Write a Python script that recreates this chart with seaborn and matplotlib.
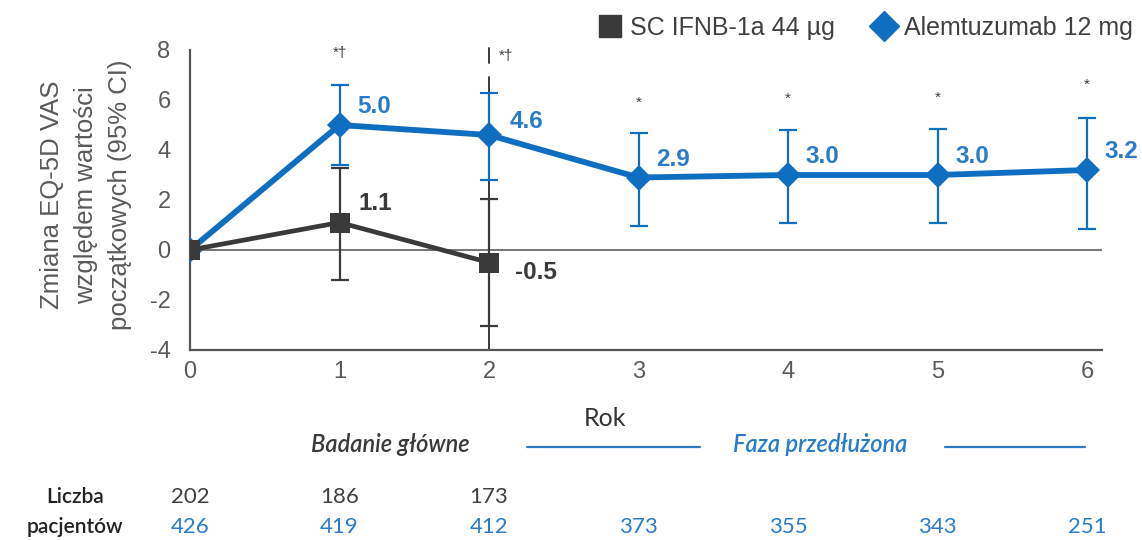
import numpy as np
import pandas as pd
import matplotlib
matplotlib.use("Agg")
import matplotlib.pyplot as plt
import seaborn as sns
from matplotlib.lines import Line2D

# ---- data ----
years = [0, 1, 2, 3, 4, 5, 6]
alem_mean = [0.0, 5.0, 4.6, 2.9, 3.0, 3.0, 3.2]
alem_lo = [0.0, 3.4, 2.8, 0.95, 1.1, 1.1, 0.85]
alem_hi = [0.0, 6.6, 6.3, 4.7, 4.8, 4.85, 5.3]

ifn_years = [0, 1, 2]
ifn_mean = [0.0, 1.1, -0.5]
ifn_lo = [0.0, -1.2, -3.05]
ifn_hi = [0.0, 3.3, 2.05]

sig_labels = ["", "*†", "*†", "*", "*", "*", "*"]
n_ifn = [202, 186, 173]
n_alem = [426, 419, 412, 373, 355, 343, 251]

series_names = ["SC IFNB-1a 44 µg", "Alemtuzumab 12 mg"]
y_ticks = [-4, -2, 0, 2, 4, 6, 8]

BLUE = "#0F6EC0"
BLUE_TXT = "#2A7CC9"
DARK = "#3A3A3A"
GRAY = "#5A5A5A"

sns.set_style("white")
plt.rcParams["font.family"] = ["Liberation Sans", "DejaVu Sans"]
plt.rcParams["axes.unicode_minus"] = False

fig = plt.figure(figsize=(11.42, 5.40), dpi=100)
ax = fig.add_axes([190 / 1142, 1 - 350 / 540, (1102 - 190) / 1142, 300 / 540])

df = pd.concat([
    pd.DataFrame({"Rok": years, "val": alem_mean, "grp": series_names[1]}),
    pd.DataFrame({"Rok": ifn_years, "val": ifn_mean, "grp": series_names[0]}),
])

# zero line
ax.axhline(0, color="#6a6a6a", lw=1.3, zorder=1)

# separator at end of core study
ax.plot([2, 2], [-4, 6.92], color=DARK, lw=1.4, zorder=2, clip_on=False)
ax.plot([2, 2], [7.48, 8.1], color=DARK, lw=1.4, zorder=2, clip_on=False)

# error bars
a = np.array(alem_mean[1:]); lo = np.array(alem_lo[1:]); hi = np.array(alem_hi[1:])
ax.errorbar(years[1:], a, yerr=[a - lo, hi - a], fmt="none", ecolor=BLUE,
            elinewidth=1.6, capsize=6.5, capthick=1.6, zorder=3)
b = np.array(ifn_mean[1:]); blo = np.array(ifn_lo[1:]); bhi = np.array(ifn_hi[1:])
ax.errorbar(ifn_years[1:], b, yerr=[b - blo, bhi - b], fmt="none", ecolor=DARK,
            elinewidth=1.6, capsize=6.5, capthick=1.6, zorder=4)

sns.lineplot(data=df[df.grp == series_names[1]], x="Rok", y="val", ax=ax,
             color=BLUE, lw=4.2, marker="D", markersize=13, markeredgewidth=0,
             legend=False, zorder=5)
sns.lineplot(data=df[df.grp == series_names[0]], x="Rok", y="val", ax=ax,
             color=DARK, lw=3.4, marker="s", markersize=14.5, markeredgewidth=0,
             legend=False, zorder=6)

# value labels
for x, v in zip(years[1:], alem_mean[1:]):
    off = (25, 13) if x != 2 else (27, 10)
    ax.annotate(f"{v:.1f}", (x, v), xytext=off, textcoords="offset points",
                ha="center", va="center", color=BLUE_TXT, fontsize=17.5,
                fontweight="bold", annotation_clip=False)
ax.annotate(f"{ifn_mean[1]:.1f}", (1, ifn_mean[1]), xytext=(26, 14),
            textcoords="offset points", ha="center", va="center", color=DARK,
            fontsize=17.5, fontweight="bold")
ax.annotate(f"{ifn_mean[2]:.1f}", (2, ifn_mean[2]), xytext=(34, -7),
            textcoords="offset points", ha="center", va="center", color=DARK,
            fontsize=17.5, fontweight="bold")

# significance markers
sig_pos = {1: (0, 7.9), 2: (12, 7.75), 3: (0, 5.9), 4: (0, 6.05), 5: (0, 6.1), 6: (0, 6.6)}
for x, s in zip(years, sig_labels):
    if not s:
        continue
    dx, yy = sig_pos[x]
    ax.annotate(s, (x, yy), xytext=(dx, 0), textcoords="offset points",
                ha="center", va="center", color=DARK, fontsize=11,
                annotation_clip=False)

# axes styling
ax.set_xlim(0, 6.1)
ax.set_ylim(-4, 8)
ax.set_xticks(years)
ax.set_yticks(y_ticks)
ax.set_xlabel("")
ax.set_ylabel("")
for s in ["top", "right"]:
    ax.spines[s].set_visible(False)
for s in ["left", "bottom"]:
    ax.spines[s].set_color("#555555")
    ax.spines[s].set_linewidth(1.6)
ax.tick_params(axis="both", colors="#555555", labelcolor=GRAY, labelsize=17,
               direction="out", length=5, width=1.4)
ax.tick_params(axis="y", pad=9)
ax.tick_params(axis="x", pad=3)
ax.set_facecolor("white")

# y label
fig.text(86 / 1142, 1 - 195 / 540,
         "Zmiana EQ-5D VAS\nwzględem wartości\npoczątkowych (95% CI)",
         rotation=90, ha="center", va="center", color=GRAY, fontsize=18.5,
         linespacing=1.55)

# legend
handles = [Line2D([], [], color=DARK, marker="s", markersize=16, lw=0),
           Line2D([], [], color=BLUE, marker="D", markersize=15, lw=0)]
leg = fig.legend(handles, series_names, loc="center",
                 bbox_to_anchor=(866 / 1142, 1 - 28 / 540), ncol=2, frameon=False,
                 fontsize=18, handlelength=0.9, handletextpad=0.35,
                 columnspacing=1.5)
for t in leg.get_texts():
    t.set_color("#404040")

# bottom annotations
cond = ["Lato", "Liberation Sans", "DejaVu Sans"]
fig.text(605 / 1142, 1 - 418 / 540, "Rok", ha="center", va="center",
         color="#333333", fontsize=18, family=cond)
fig.text(390 / 1142, 1 - 445 / 540, "Badanie główne", ha="center", va="center",
         color="#3a3a3a", fontsize=17, style="italic", fontweight="semibold",
         family=cond)
fig.text(820 / 1142, 1 - 445 / 540, "Faza przedłużona", ha="center", va="center",
         color=BLUE_TXT, fontsize=17, style="italic", fontweight="semibold",
         family=cond)
fig.add_artist(Line2D([527 / 1142, 700 / 1142], [1 - 447 / 540] * 2,
                      color=BLUE_TXT, lw=1.6))
fig.add_artist(Line2D([945 / 1142, 1085 / 1142], [1 - 447 / 540] * 2,
                      color=BLUE_TXT, lw=1.6))

fig.text(75 / 1142, 1 - 497 / 540, "Liczba", ha="center", va="center",
         color="#222222", fontsize=15, fontweight="semibold", family=cond)
fig.text(75 / 1142, 1 - 527 / 540, "pacjentów", ha="center", va="center",
         color="#222222", fontsize=15, fontweight="semibold", family=cond)

trans = ax.get_xaxis_transform()
for x, n in zip(ifn_years, n_ifn):
    ax.text(x, -147 / 300, str(n), transform=trans, ha="center", va="center",
            color="#404040", fontsize=16, family=cond, clip_on=False)
for x, n in zip(years, n_alem):
    ax.text(x, -177 / 300, str(n), transform=trans, ha="center", va="center",
            color=BLUE_TXT, fontsize=16, family=cond, clip_on=False)

fig.savefig("out.png", dpi=100, facecolor="white")
